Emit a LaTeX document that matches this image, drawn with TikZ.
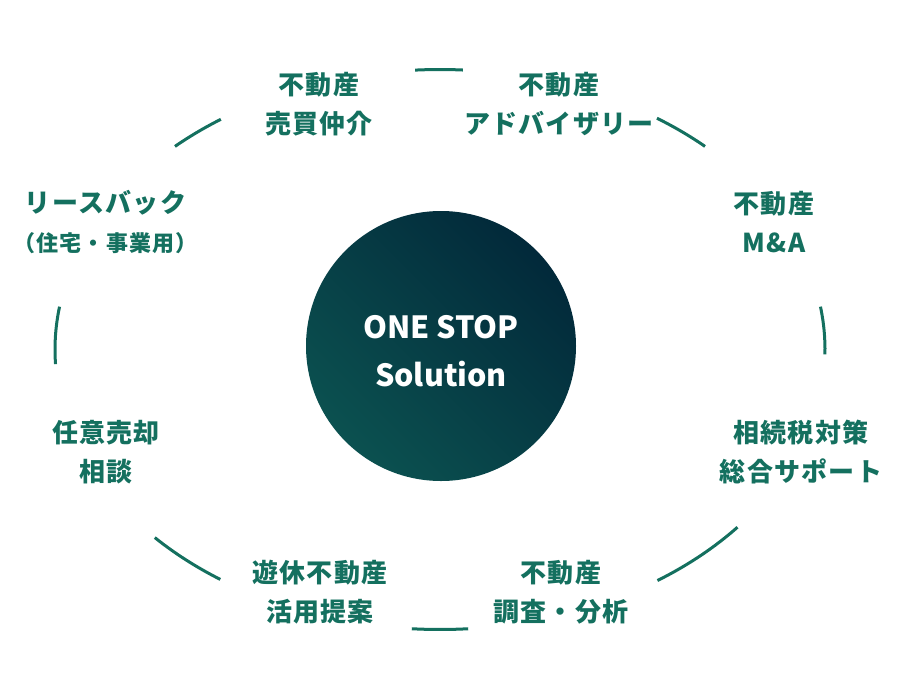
\documentclass[tikz,border=0pt]{standalone}
\usepackage{fontspec}
\setmainfont{Noto Sans CJK JP}
\newfontfamily\lblfont{Noto Sans CJK JP}[LetterSpace=5]
\usetikzlibrary{calc}
\definecolor{ringgreen}{HTML}{14705F}
\definecolor{cdark}{HTML}{02293A}
\definecolor{cteal}{HTML}{0B5150}
\tikzset{
  ring/.style={draw=ringgreen, line width=3pt},
  lbl/.style={text=ringgreen, align=center, inner sep=0pt, font=\lblfont\bfseries\fontsize{26}{39}\selectfont}
}
\newcommand\ringarc[2]{\draw[ring] ($(C)+({#1}:385 and 280)$) arc[start angle=#1, end angle=#2, x radius=385, y radius=280];}
\begin{document}
\begin{tikzpicture}[x=1pt,y=1pt]
\useasboundingbox (0,0) rectangle (908,-694);
\coordinate (C) at (440,-349.5);
\ringarc{86.6}{93.7}
\ringarc{46.5}{55.7}
\ringarc{-1}{8.8}
\ringarc{-55.6}{-39.4}
\ringarc{-94.2}{-85.8}
\ringarc{222.2}{235.2}
\ringarc{171.2}{183}
\ringarc{124.7}{133.5}
\shade[top color=cdark, bottom color=cteal, shading angle=-45] (441,-346) circle[radius=135];
\node[circle, minimum size=270pt, inner sep=0pt] (hub) at (441,-346) {};
\node[text=white, align=center, font=\bfseries\fontsize{30.5}{48}\selectfont] (hubtext) at (441,-351) {ONE STOP\\Solution};
\node[lbl] (l1) at (319,-104) {不動産\\売買仲介};
\node[lbl] (l2) at (559,-104) {不動産\\アドバイザリー};
\node[lbl] (l3) at (774,-222) {不動産\\M\&A};
\node[lbl] (l4) at (105.5,-222) {リースバック\\{\fontsize{22}{39}\selectfont （住宅・事業用）}};
\node[lbl] (l5) at (106,-452) {任意売却\\相談};
\node[lbl] (l6) at (801,-452) {相続税対策\\総合サポート};
\node[lbl] (l7) at (320,-592) {遊休不動産\\活用提案};
\node[lbl] (l8) at (561,-592) {不動産\\調査・分析};
\end{tikzpicture}
\end{document}
